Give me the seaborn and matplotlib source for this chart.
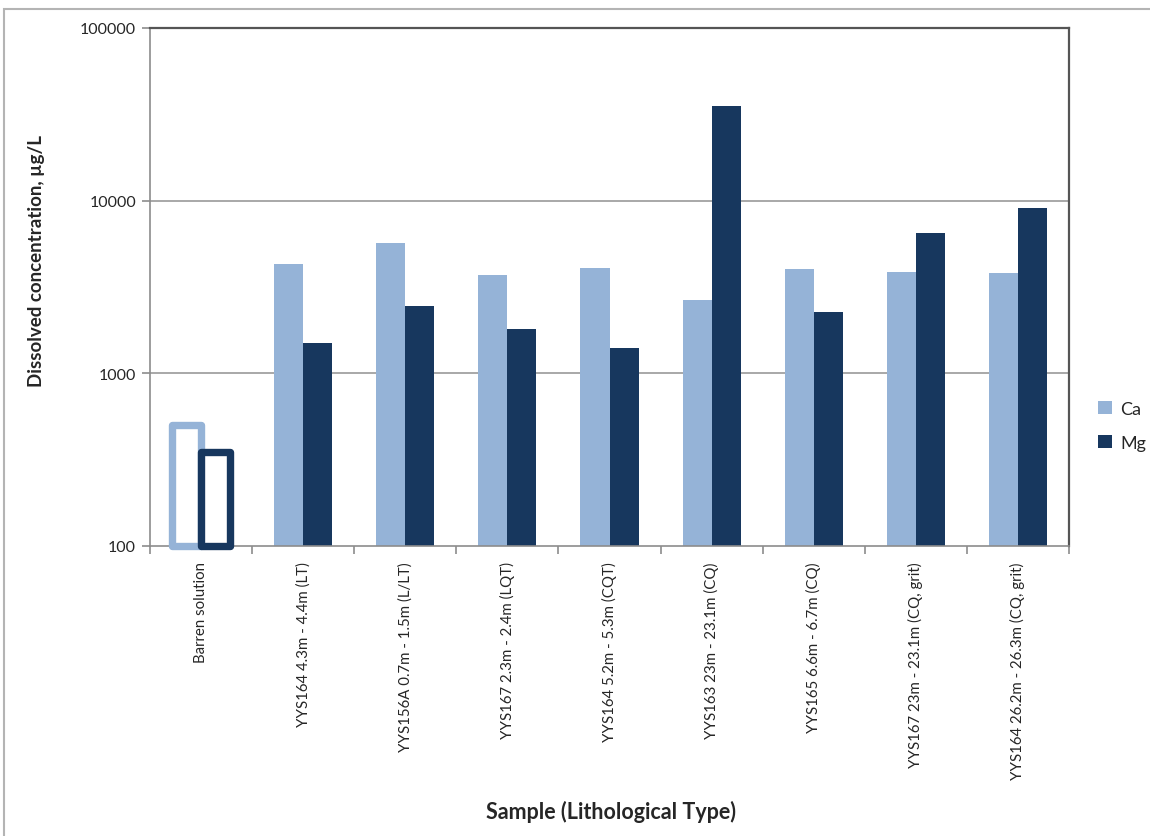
import matplotlib
matplotlib.use("Agg")
import matplotlib.pyplot as plt
from matplotlib.patches import Rectangle
from matplotlib.ticker import FixedLocator, NullLocator
import seaborn as sns
import pandas as pd

# Sample names (lithological type in brackets)
samples = [
    "Barren solution",
    "YYS164 4.3m - 4.4m (LT)",
    "YYS156A 0.7m - 1.5m (L/LT)",
    "YYS167 2.3m - 2.4m (LQT)",
    "YYS164 5.2m - 5.3m (CQT)",
    "YYS163 23m - 23.1m (CQ)",
    "YYS165 6.6m - 6.7m (CQ)",
    "YYS167 23m - 23.1m (CQ, grit)",
    "YYS164 26.2m - 26.3m (CQ, grit)",
]

# Dissolved concentrations, µg/L
ca_values = [500, 4300, 5700, 3700, 4100, 2650, 4000, 3850, 3800]
mg_values = [350, 1500, 2450, 1800, 1400, 35300, 2270, 6500, 9100]

elements = ["Ca", "Mg"]
element_colors = ["#95B3D7", "#17375E"]
y_ticks = [100, 1000, 10000, 100000]

df = pd.DataFrame({
    "Sample": samples * 2,
    "Element": ["Ca"] * len(samples) + ["Mg"] * len(samples),
    "Concentration": ca_values + mg_values,
})

sns.set_style("white")
plt.rcParams["font.family"] = ["Lato", "DejaVu Sans"]

fig = plt.figure(figsize=(11.5, 8.37), dpi=100)
ax = fig.add_axes([150 / 1150, 1 - 547 / 837, (1069 - 150) / 1150, (547 - 29) / 837])

sns.barplot(
    data=df, x="Sample", y="Concentration", hue="Element",
    hue_order=elements, palette=element_colors, order=samples,
    width=0.57, gap=0, saturation=1, linewidth=0, ax=ax, legend=True,
)

ax.set_yscale("log")
ax.set_ylim(100, 100000)
ax.set_xlim(-0.5, len(samples) - 0.5)

# Blank solution shown as outlined bars
for container, color in zip(ax.containers, element_colors):
    bar = container.patches[0]
    top = bar.get_y() + bar.get_height()
    bar.set_y(100)
    bar.set_height(top - 100)
    bar.set_facecolor("white")
    bar.set_edgecolor(color)
    bar.set_linewidth(5.3)
    bar.set_joinstyle("round")
    bar.set_clip_on(False)
    bar.set_zorder(3)

# Gridlines at decades
ax.yaxis.set_major_locator(FixedLocator(y_ticks))
ax.yaxis.set_minor_locator(NullLocator())
ax.set_yticklabels([str(t) for t in y_ticks], fontsize=11.5)
for t in y_ticks[1:-1]:
    ax.axhline(t, color="#9a9a9a", linewidth=1.2, zorder=0)

# Category ticks between groups, labels at group centres
ax.set_xticks(range(len(samples)))
ax.set_xticklabels(samples, rotation=90, fontsize=10.8)
ax.set_xticks([i - 0.5 for i in range(len(samples) + 1)], minor=True)
ax.tick_params(axis="x", which="major", length=0, pad=11)
ax.tick_params(axis="x", which="minor", length=6, width=1.2, color="#8c8c8c", direction="out", bottom=True)
ax.tick_params(axis="y", which="major", length=6, width=1.2, color="#8c8c8c", direction="out", left=True, pad=4)

for side in ["left", "bottom"]:
    ax.spines[side].set_color("#8c8c8c")
    ax.spines[side].set_linewidth(1.2)
for side in ["top", "right"]:
    ax.spines[side].set_visible(True)
    ax.spines[side].set_color("#555555")
    ax.spines[side].set_linewidth(1.6)

ax.set_xlabel("")
ax.set_ylabel("Dissolved concentration, µg/L", fontsize=13.5, fontweight="bold")
ax.yaxis.set_label_coords(-0.114, 0.552)
fig.text(611 / 1150, 1 - 812 / 837, "Sample (Lithological Type)", ha="center", va="center",
         fontsize=15.5, fontweight="bold")

leg = ax.legend(
    loc="center left", bbox_to_anchor=(1082 / 1150, 1 - 427 / 837), bbox_transform=fig.transFigure,
    frameon=False, fontsize=13, handlelength=0.75, handleheight=0.75, handletextpad=0.45,
    labelspacing=1.0, title=None,
)

# Light frame round the chart area
fig.patches.append(Rectangle((4 / 1150, -0.05), 1.2, 1.05 - 10 / 837, transform=fig.transFigure,
                             fill=False, edgecolor="#b4b4b4", linewidth=1.5, zorder=-1))

fig.savefig("out.png", dpi=100)
